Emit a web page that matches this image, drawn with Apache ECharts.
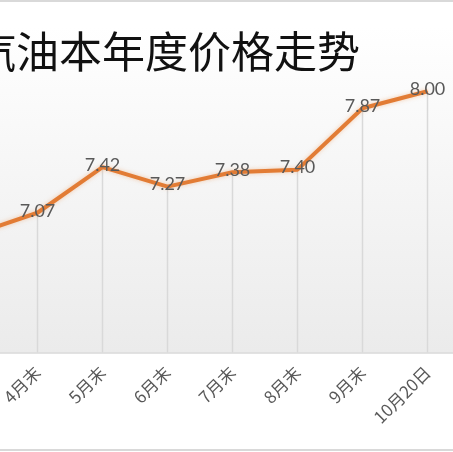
<!DOCTYPE html>
<html>
<head>
<meta charset="utf-8">
<style>
  html, body { margin: 0; padding: 0; background: #fff; overflow: hidden; }
  /* 图表比窗口宽，左移后 3月末 落在画面外 */
  #main { width: 526px; height: 452px; margin-left: -66px; }
</style>
<script src="https://cdn.jsdelivr.net/npm/echarts@6/dist/echarts.min.js"></script>
</head>
<body>
<div id="main"></div>
<script>
  var months = ['3月末', '4月末', '5月末', '6月末', '7月末', '8月末', '9月末', '10月20日'];
  var prices = [6.90, 7.07, 7.42, 7.27, 7.38, 7.40, 7.87, 8.00];

  var chart = echarts.init(document.getElementById('main'));

  var option = {
    animation: false,
    title: {
      text: '汽油本年度价格走势',
      left: 39,
      top: 30,
      padding: 0,
      textStyle: {
        fontFamily: 'Noto Sans CJK SC',
        fontSize: 43,
        fontWeight: 'normal',
        color: '#111'
      }
    },
    grid: {
      left: 0.5,
      right: 0,
      top: 26,
      bottom: 99.5,
      show: true,
      borderWidth: 0,
      backgroundColor: new echarts.graphic.LinearGradient(0, 0, 0, 1, [
        { offset: 0, color: '#ffffff' },
        { offset: 1, color: '#ebebeb' }
      ])
    },
    xAxis: {
      type: 'category',
      data: months,
      boundaryGap: true,
      axisLine: { lineStyle: { color: '#d9d9d9', width: 1.5 } },
      axisTick: { show: false },
      axisLabel: {
        rotate: 45,
        margin: 17,
        interval: 0,
        color: '#595959',
        fontSize: 17,
        fontFamily: 'Noto Sans CJK SC'
      }
    },
    yAxis: {
      type: 'value',
      min: 6,
      max: 8.5,
      show: false,
      splitLine: { show: false }
    },
    series: [
      { // 垂直线
        type: 'bar',
        data: prices,
        barWidth: 1.5,
        itemStyle: { color: '#d9d9d9' },
        silent: true,
        z: 1
      },
      {
        type: 'line',
        data: prices,
        symbol: 'circle',
        symbolSize: 1,
        itemStyle: { color: '#E27C35' },
        lineStyle: {
          color: '#E27C35',
          width: 4,
          shadowColor: 'rgba(240,160,100,0.5)',
          shadowBlur: 4
        },
        label: {
          show: true,
          position: 'inside',
          offset: [0, -2],
          formatter: function (p) { return p.value.toFixed(2); },
          color: '#595959',
          fontSize: 18,
          fontFamily: 'Lato'
        },
        z: 3
      }
    ],
    graphic: [
      { type: 'line', shape: { x1: 0, y1: 1, x2: 526, y2: 1 }, style: { stroke: '#d9d9d9', lineWidth: 2 } },
      { type: 'line', shape: { x1: 0, y1: 450, x2: 526, y2: 450 }, style: { stroke: '#d9d9d9', lineWidth: 2 } }
    ]
  };

  chart.setOption(option);
  window.addEventListener('resize', function () {
    chart.resize();
  });
</script>
</body>
</html>
